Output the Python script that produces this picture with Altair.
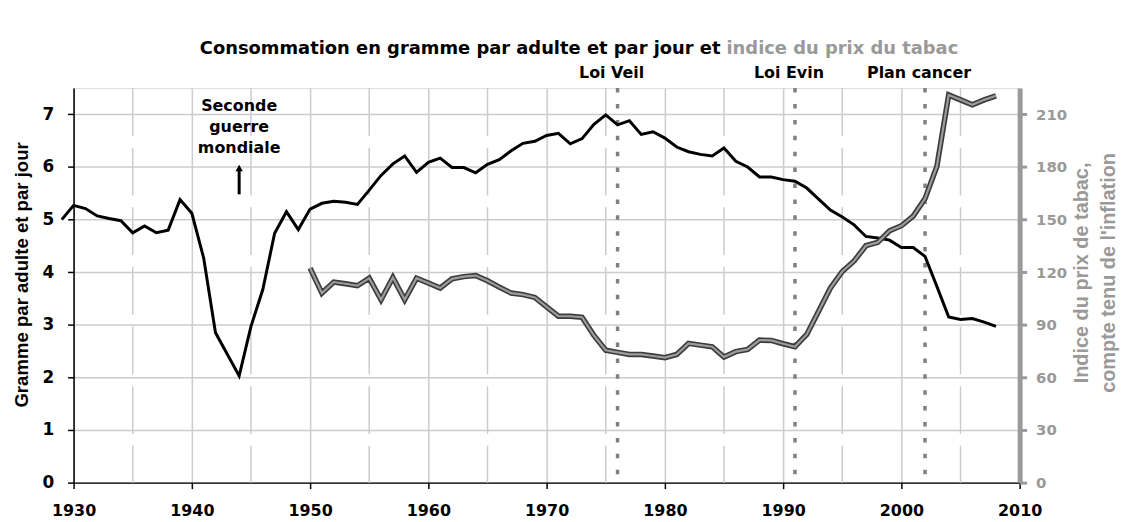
import altair as alt
import pandas as pd

# ---------------- data ----------------
cons_years = list(range(1929, 2009))
cons_values = [
    5.00, 5.27, 5.21, 5.07, 5.02, 4.98, 4.75, 4.88, 4.75, 4.80,   # 1929-1938
    5.38, 5.12, 4.27, 2.85, 2.44, 2.03, 2.97, 3.67, 4.74, 5.15,   # 1939-1948
    4.81, 5.20, 5.31, 5.35, 5.33, 5.29, 5.56, 5.84, 6.06, 6.21,   # 1949-1958
    5.90, 6.09, 6.17, 5.99, 5.99, 5.89, 6.05, 6.14, 6.31, 6.45,   # 1959-1968
    6.49, 6.60, 6.64, 6.44, 6.54, 6.81, 6.99, 6.80, 6.88, 6.62,   # 1969-1978
    6.67, 6.55, 6.38, 6.29, 6.24, 6.21, 6.36, 6.11, 6.00, 5.81,   # 1979-1988
    5.81, 5.76, 5.73, 5.60, 5.39, 5.18, 5.05, 4.90, 4.68, 4.65,   # 1989-1998
    4.61, 4.47, 4.47, 4.30, 3.73, 3.15, 3.10, 3.12, 3.05, 2.97,   # 1999-2008
]
price_years = list(range(1950, 2009))
price_values = [
    122.3, 108.1, 114.4, 113.4, 112.3, 116.6, 104.3, 117.0, 104.3, 116.6,  # 1950-1959
    113.8, 111.0, 116.2, 117.5, 118.1, 115.1, 111.5, 108.1, 107.2, 105.6,  # 1960-1969
    100.2, 94.9, 94.9, 94.3, 83.9, 75.5, 74.3, 73.1, 73.1, 72.2,           # 1970-1979
    71.3, 73.1, 79.4, 78.4, 77.5, 71.6, 74.7, 76.0, 81.3, 81.1,            # 1980-1989
    79.2, 77.5, 84.5, 97.7, 111.0, 120.4, 126.4, 135.1, 137.0, 143.6,      # 1990-1999
    146.5, 152.0, 162.0, 180.3, 221.1, 218.3, 215.5, 218.3, 220.6,         # 2000-2008
]
event_years = [1976, 1991, 2002]
event_labels = ["Loi Veil", "Loi Evin", "Plan cancer"]
half_decades = [1935, 1945, 1955, 1965, 1975, 1985, 1995, 2005]
x_ticks = [1930, 1940, 1950, 1960, 1970, 1980, 1990, 2000, 2010]
left_ticks = [0, 1, 2, 3, 4, 5, 6, 7]
right_ticks = [0, 30, 60, 90, 120, 150, 180, 210]
wwii_year = [1944]
wwii_label = ["Seconde\nguerre\nmondiale"]
arrow_from = [5.48]
arrow_to = [5.95]
arrow_tip = [5.98]
title_black = "Consommation en gramme par adulte et par jour et"
title_gray = "indice du prix du tabac"
left_title = "Gramme par adulte et par jour"
right_title_1 = "Indice du prix de tabac,"
right_title_2 = "compte tenu de l'inflation"

# ---------------- tables ----------------
cons_df = pd.DataFrame({"annee": cons_years, "conso": cons_values})
price_df = pd.DataFrame({"annee": price_years, "prix": price_values})
events_df = pd.DataFrame({"annee": event_years, "label": event_labels})
half_df = pd.DataFrame({"annee": half_decades})
wwii_df = pd.DataFrame({"annee": wwii_year, "label": wwii_label,
                        "y0": arrow_from, "y1": arrow_to, "tip": arrow_tip})

W, H = 952, 397
FONT = "DejaVu Sans"
NARROW = "Liberation Sans"
GRAY_TXT = "#999999"
GRID = "#cccccc"

x_scale = alt.Scale(domain=[1930, 2010], nice=False, zero=False)
x_axis = alt.Axis(values=x_ticks, format="d", title=None, grid=True,
                  gridColor=GRID, gridWidth=1.5, domainColor="black",
                  domainWidth=1.5, tickColor="black", tickSize=6, tickWidth=1.5,
                  labelFont=FONT, labelFontSize=16, labelFontWeight="bold",
                  labelColor="black", labelPadding=14, labelFlush=False,
                  labelOverlap=False, labelBound=False)
X = alt.X("annee:Q", scale=x_scale, axis=x_axis)

y_left_scale = alt.Scale(domain=[0, 7.5], nice=False)
y_left_axis = alt.Axis(values=left_ticks, title=None, grid=True, gridColor=GRID,
                       gridWidth=1.5, domainColor="black", domainWidth=1.5,
                       tickColor="black", tickSize=6, tickWidth=1.5,
                       labelFont=FONT, labelFontSize=17, labelFontWeight="bold",
                       labelColor="black", labelPadding=14, labelFlush=False)

y_right_scale = alt.Scale(domain=[0, 225], nice=False)
y_right_axis = alt.Axis(orient="right", values=right_ticks, title=None, grid=False,
                        domainColor="#9a9a9a", domainWidth=5,
                        tickColor="#9a9a9a", tickSize=7, tickWidth=3,
                        labelFont=FONT, labelFontSize=15, labelFontWeight="bold",
                        labelColor=GRAY_TXT, labelPadding=9, labelFlush=False)

# ---------------- left-scale layers ----------------
half_grid = alt.Chart(half_df).mark_rule(
    color=GRID, strokeWidth=1.5, strokeDash=[48, 12]
).encode(x=X, y=alt.value(0), y2=alt.value(H))

cons_line = alt.Chart(cons_df).mark_line(
    color="black", strokeWidth=3
).encode(x=X, y=alt.Y("conso:Q", scale=y_left_scale, axis=y_left_axis))

event_rules = alt.Chart(events_df).mark_rule(
    color="#808080", strokeWidth=3.5, strokeDash=[4.5, 11.5]
).encode(x=X, y=alt.value(0), y2=alt.value(H))

event_text = alt.Chart(events_df).mark_text(
    font=FONT, fontSize=16, fontWeight="bold", color="black",
    baseline="middle", align="center", dx=-6
).encode(x=X, y=alt.value(-15), text="label:N")

wwii_text = alt.Chart(wwii_df).mark_text(
    font=FONT, fontSize=16, fontWeight="bold", color="black",
    baseline="middle", align="center", lineBreak="\n", lineHeight=21
).encode(x=X, y=alt.value(18), text="label:N")

arrow_shaft = alt.Chart(wwii_df).mark_rule(color="black", strokeWidth=3).encode(
    x=X, y=alt.Y("y0:Q", scale=y_left_scale, axis=y_left_axis), y2="y1:Q")

arrow_head = alt.Chart(wwii_df).mark_point(
    shape="triangle-up", filled=True, color="black", size=55, opacity=1
).encode(x=X, y=alt.Y("tip:Q", scale=y_left_scale, axis=y_left_axis))

title_df = pd.DataFrame({"a": [title_black], "b": [title_gray],
                         "l": [left_title], "r1": [right_title_1], "r2": [right_title_2]})

t_black = alt.Chart(title_df).mark_text(
    font=FONT, fontSize=18, fontWeight="bold", color="black",
    align="right", baseline="middle"
).encode(x=alt.value(651), y=alt.value(-39), text="a:N")

t_gray = alt.Chart(title_df).mark_text(
    font=FONT, fontSize=18, fontWeight="bold", color=GRAY_TXT,
    align="left", baseline="middle"
).encode(x=alt.value(657), y=alt.value(-39), text="b:N")

t_left = alt.Chart(title_df).mark_text(
    font=NARROW, fontSize=18.7, fontWeight="bold", color="black",
    align="center", baseline="middle", angle=270
).encode(x=alt.value(-52), y=alt.value(188), text="l:N")

t_r1 = alt.Chart(title_df).mark_text(
    font=NARROW, fontSize=20, fontWeight="bold", color=GRAY_TXT,
    align="center", baseline="middle", angle=270
).encode(x=alt.value(1015), y=alt.value(186), text="r1:N")

t_r2 = alt.Chart(title_df).mark_text(
    font=NARROW, fontSize=20, fontWeight="bold", color=GRAY_TXT,
    align="center", baseline="middle", angle=270
).encode(x=alt.value(1042), y=alt.value(186), text="r2:N")

left_layer = alt.layer(half_grid, event_rules, cons_line, event_text, wwii_text,
                       arrow_shaft, arrow_head, t_black, t_gray, t_left, t_r1, t_r2)

# ---------------- right-scale layers ----------------
Y_R = alt.Y("prix:Q", scale=y_right_scale, axis=y_right_axis)
price_outer = alt.Chart(price_df).mark_line(color="#3c3c3c", strokeWidth=5.5).encode(x=X, y=Y_R)
price_inner = alt.Chart(price_df).mark_line(color="#9c9c9c", strokeWidth=2.2).encode(x=X, y=Y_R)
right_layer = alt.layer(price_outer, price_inner)

chart = alt.layer(left_layer, right_layer).resolve_scale(y="independent").properties(
    width=W, height=H,
    autosize=alt.AutoSizeParams(type="none"),
    padding={"left": 66, "top": 79, "right": 104, "bottom": 36},
).configure_view(stroke=None).configure(background="white")

chart.save("out.html", embed_options={"renderer": "svg", "actions": False})
